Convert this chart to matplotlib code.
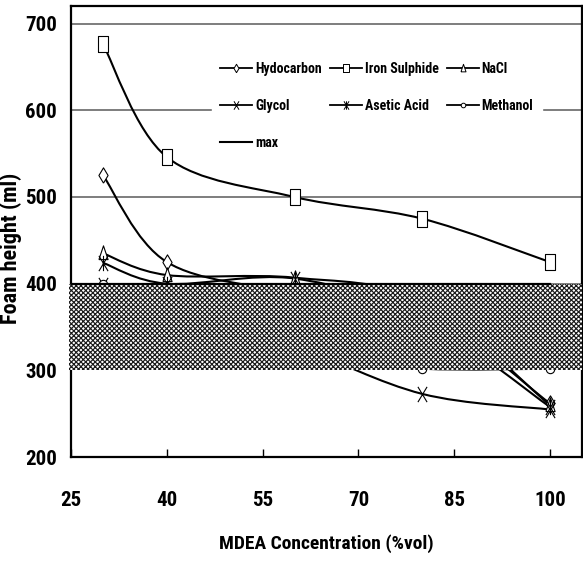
import numpy as np
import matplotlib
matplotlib.use("Agg")
import matplotlib.pyplot as plt
from matplotlib.path import Path
from matplotlib.patches import PathPatch
from matplotlib.lines import Line2D

plt.rcParams['font.family'] = ['Liberation Sans Narrow', 'DejaVu Sans Condensed',
                               'Roboto Condensed', 'Liberation Sans', 'DejaVu Sans']
plt.rcParams['font.weight'] = 'bold'
plt.rcParams['hatch.linewidth'] = 0.85

conc = [30, 40, 60, 80, 100]
hydrocarbon = [525, 425, 390, 370, 262]
iron_sulphide = [676, 546, 500, 475, 425]
nacl = [435, 410, 407, 380, 260]
glycol = [398, 385, 330, 273, 255]
asetic_acid = [424, 400, 406, 360, 258]
methanol = [400, 360, 315, 302, 302]
max_x = [25, 100]
max_y = [400, 400]

x_ticks = [25, 40, 55, 70, 85, 100]
y_ticks = [200, 300, 400, 500, 600, 700]

# tall markers (the original picture is squeezed sideways)
rect = [(-0.6, -1), (0.6, -1), (0.6, 1), (-0.6, 1), (-0.6, -1)]
diam = [(0, -1), (0.6, 0), (0, 1), (-0.6, 0), (0, -1)]
tri = [(-0.6, -0.8), (0.6, -0.8), (0, 1), (-0.6, -0.8)]
xpath = Path([(-0.6, -1), (0.6, 1), (-0.6, 1), (0.6, -1)],
             [Path.MOVETO, Path.LINETO, Path.MOVETO, Path.LINETO])
spath = Path([(-0.6, -1), (0.6, 1), (-0.6, 1), (0.6, -1), (0, -1), (0, 1)],
             [Path.MOVETO, Path.LINETO, Path.MOVETO, Path.LINETO, Path.MOVETO, Path.LINETO])

series = {
    "Hydocarbon": (hydrocarbon, diam, 11),
    "Iron Sulphide": (iron_sulphide, rect, 11),
    "NaCl": (nacl, tri, 11),
    "Glycol": (glycol, xpath, 11),
    "Asetic Acid": (asetic_acid, spath, 11),
    "Methanol": (methanol, "o", 6),
}


def smooth_path(xs, ys):
    # excel-like smoothed line as cubic bezier
    pts = list(zip(xs, ys))
    n = len(pts)
    verts = [pts[0]]
    codes = [Path.MOVETO]
    for i in range(n - 1):
        p0 = np.array(pts[max(i - 1, 0)], float)
        p1 = np.array(pts[i], float)
        p2 = np.array(pts[i + 1], float)
        p3 = np.array(pts[min(i + 2, n - 1)], float)
        c1 = p1 + (p2 - p0) / 6.0
        c2 = p2 - (p3 - p1) / 6.0
        verts += [tuple(c1), tuple(c2), tuple(p2)]
        codes += [Path.CURVE4] * 3
    return Path(verts, codes)


fig = plt.figure(figsize=(5.83, 5.61), dpi=100)
ax = fig.add_axes([0.122, 0.185, 0.876, 0.804])

for yv in [400, 500, 600, 700]:
    ax.axhline(yv, color='0.45', lw=1.3, zorder=1)

handles = {}
for name, (vals, mk, ms) in series.items():
    ax.add_patch(PathPatch(smooth_path(conc, vals), fill=False, edgecolor='black', lw=1.5, zorder=2))
    ax.plot(conc, vals, linestyle='none', marker=mk, markersize=ms, markerfacecolor='white',
            markeredgecolor='black', markeredgewidth=0.8, zorder=2.5)
    handles[name] = Line2D([], [], color='black', lw=1.3, marker=mk, markersize=ms * 0.55,
                           markerfacecolor='white', markeredgecolor='black', markeredgewidth=0.7,
                           label=name)

ax.axhspan(300, 400, xmin=-0.004, xmax=1.0, facecolor='white', edgecolor='0.1',
           hatch='xxxxxxx', lw=0, zorder=3, clip_on=False)
ax.plot(max_x, max_y, color='black', lw=1.6, zorder=4)
handles['max'] = Line2D([], [], color='black', lw=1.5, label='max')

ax.set_xlim(25, 105)
ax.set_ylim(200, 720)
ax.set_xticks(x_ticks)
ax.set_yticks(y_ticks)
ax.tick_params(axis='x', direction='in', length=6, width=1, pad=24, labelsize=15)
ax.tick_params(axis='y', length=0, pad=10, labelsize=15)
for s in ax.spines.values():
    s.set_linewidth(1.6)

ax.set_xlabel("MDEA Concentration (%vol)", fontsize=14, fontweight='bold', labelpad=18)
ax.set_ylabel("Foam height (ml)", fontsize=16, fontweight='bold')
ax.yaxis.set_label_coords(-0.097, 0.463)

# legend fills column by column, so order it to read row-wise
order = ["Hydocarbon", "Glycol", "max", "Iron Sulphide", "Asetic Acid", "NaCl", "Methanol"]
leg = ax.legend(handles=[handles[k] for k in order], ncol=3, loc='upper left',
                bbox_to_anchor=(0.262, 0.91), fontsize=10, frameon=True, fancybox=False,
                edgecolor='white', framealpha=1, handlelength=2.3, handletextpad=0.2,
                columnspacing=0.6, labelspacing=1.65, borderpad=0.6)
leg.set_zorder(5)

fig.savefig("out.png", dpi=100)
